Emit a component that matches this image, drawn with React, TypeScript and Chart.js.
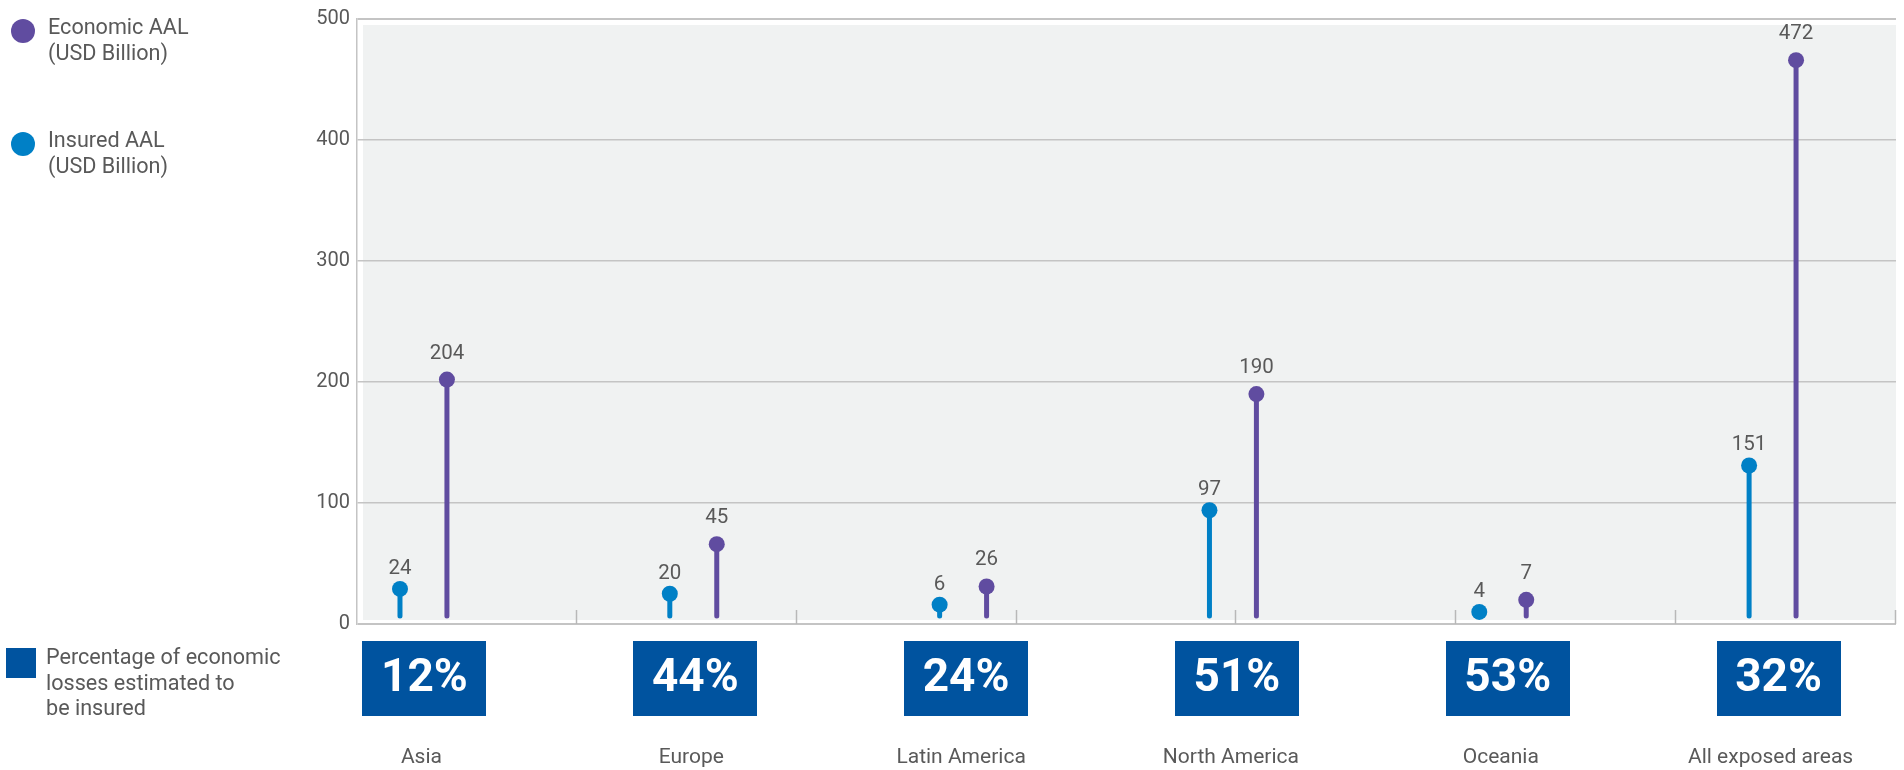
import { useEffect, useRef } from 'react';
import { Chart, registerables } from 'chart.js';

Chart.register(...registerables);

const categories = ['Asia', 'Europe', 'Latin America', 'North America', 'Oceania', 'All exposed areas'];
// value labels printed on the chart
const insuredValues = [24, 20, 6, 97, 4, 151];
const economicValues = [204, 45, 26, 190, 7, 472];
// heights at which the lollipop heads are drawn in the picture
const insuredHeights = [29, 25, 16, 94, 10, 131];
const economicHeights = [202, 66, 31, 190, 20, 466];
const insuredShare = ['12%', '44%', '24%', '51%', '53%', '32%'];
const yTicks = [0, 100, 200, 300, 400, 500];

const PURPLE = '#604ca0';
const BLUE = '#0080c6';
const BOX = '#00539f';
const TEXT = '#595959';
const GRID = '#c4c4c4';
const FONT = 'Roboto, "Noto Sans", Arial, sans-serif';
const PAIR_OFFSET = 0.087;

const deco = {
  id: 'deco',
  beforeDraw(chart: any) {
    const { ctx, chartArea: a } = chart;
    ctx.save();
    ctx.fillStyle = '#f0f2f2';
    ctx.fillRect(a.left + 6, a.top + 6, a.right - a.left - 6, a.bottom - a.top - 10);
    ctx.restore();
  },
  beforeDatasetsDraw(chart: any) {
    const { ctx, chartArea: a } = chart;
    const y0 = chart.scales.y.getPixelForValue(0);
    ctx.save();
    ctx.strokeStyle = '#b8b8b8';
    ctx.lineWidth = 1.5;
    const w = (a.right - a.left) / 7;
    for (let k = 1; k <= 7; k++) {
      const x = Math.round(a.left + k * w) - 0.5;
      ctx.beginPath();
      ctx.moveTo(x, a.bottom - 14);
      ctx.lineTo(x, a.bottom);
      ctx.stroke();
    }
    chart.data.datasets.forEach((ds: any, di: number) => {
      const meta = chart.getDatasetMeta(di);
      ctx.strokeStyle = ds.backgroundColor;
      ctx.lineWidth = 5;
      ctx.lineCap = 'round';
      meta.data.forEach((pt: any) => {
        ctx.beginPath();
        ctx.moveTo(pt.x, pt.y);
        ctx.lineTo(pt.x, y0 - 8);
        ctx.stroke();
      });
    });
    ctx.restore();
  },
  afterDatasetsDraw(chart: any) {
    const { ctx } = chart;
    ctx.save();
    ctx.fillStyle = TEXT;
    ctx.font = `20.5px ${FONT}`;
    ctx.textAlign = 'center';
    ctx.textBaseline = 'alphabetic';
    const labelSets = [insuredValues, economicValues];
    const gaps = [15, 21];
    chart.data.datasets.forEach((_ds: any, di: number) => {
      const meta = chart.getDatasetMeta(di);
      meta.data.forEach((pt: any, i: number) => {
        ctx.fillText(String(labelSets[di][i]), pt.x, pt.y - gaps[di]);
      });
    });
    ctx.restore();
  },
  afterDraw(chart: any) {
    const { ctx } = chart;
    const xs = chart.scales.x;
    ctx.save();
    categories.forEach((c, i) => {
      const cx = xs.getPixelForValue(i);
      const bx = cx + 1 + i;
      ctx.fillStyle = BOX;
      ctx.fillRect(Math.round(bx - 62), 641, 124, 75);
      ctx.fillStyle = '#ffffff';
      ctx.font = `bold 46px ${FONT}`;
      ctx.textAlign = 'center';
      ctx.textBaseline = 'alphabetic';
      ctx.fillText(insuredShare[i], bx, 691);
      ctx.fillStyle = TEXT;
      ctx.font = `21px ${FONT}`;
      ctx.fillText(c, cx - 2, 763);
    });
    ctx.textAlign = 'left';
    ctx.textBaseline = 'alphabetic';
    ctx.font = `21.6px ${FONT}`;
    ctx.fillStyle = PURPLE;
    ctx.beginPath();
    ctx.arc(23, 31, 12, 0, Math.PI * 2);
    ctx.fill();
    ctx.fillStyle = BLUE;
    ctx.beginPath();
    ctx.arc(23, 144, 12, 0, Math.PI * 2);
    ctx.fill();
    ctx.fillStyle = BOX;
    ctx.fillRect(6, 648, 30, 30);
    ctx.fillStyle = TEXT;
    ctx.fillText('Economic AAL', 48, 34);
    ctx.fillText('(USD Billion)', 48, 60);
    ctx.fillText('Insured AAL', 48, 147);
    ctx.fillText('(USD Billion)', 48, 173);
    ctx.fillText('Percentage of economic', 46, 664);
    ctx.fillText('losses estimated to', 46, 690);
    ctx.fillText('be insured', 46, 715);
    ctx.restore();
  },
};

export default function App() {
  const ref = useRef<HTMLCanvasElement | null>(null);
  useEffect(() => {
    if (!ref.current) return;
    const chart = new Chart(ref.current, {
      type: 'scatter',
      data: {
        datasets: [
          {
            label: 'Insured AAL (USD Billion)',
            data: insuredHeights.map((v, i) => ({ x: i - PAIR_OFFSET, y: v })),
            backgroundColor: BLUE,
            borderColor: BLUE,
            pointRadius: 8,
            pointHoverRadius: 8,
            pointBorderWidth: 0,
          },
          {
            label: 'Economic AAL (USD Billion)',
            data: economicHeights.map((v, i) => ({ x: i + PAIR_OFFSET, y: v })),
            backgroundColor: PURPLE,
            borderColor: PURPLE,
            pointRadius: 8,
            pointHoverRadius: 8,
            pointBorderWidth: 0,
          },
        ],
      },
      options: {
        animation: false,
        responsive: true,
        maintainAspectRatio: false,
        events: [],
        layout: { padding: { left: 297, right: 7, top: 16, bottom: 146 } },
        plugins: { legend: { display: false }, tooltip: { enabled: false } },
        scales: {
          x: { type: 'linear', min: -0.2463, max: 5.4574, display: false },
          y: {
            min: 0,
            max: 500,
            afterBuildTicks: (s: any) => {
              s.ticks = yTicks.map((v) => ({ value: v }));
            },
            afterFit: (s: any) => {
              s.width = 60;
            },
            ticks: { padding: 7, color: TEXT, font: { family: FONT, size: 20 } },
            grid: {
              color: GRID,
              lineWidth: (c: any) => (c.tick && (c.tick.value === 0 || c.tick.value === 500) ? 2 : 1.5),
              drawTicks: false,
            },
            border: { display: true, color: GRID, width: 1.5 },
          },
        },
      },
      plugins: [deco],
    } as any);
    return () => chart.destroy();
  }, []);
  return (
    <div style={{ position: 'fixed', left: 0, top: 0, width: 1904, height: 770, background: '#ffffff' }}>
      <canvas ref={ref} />
    </div>
  );
}
